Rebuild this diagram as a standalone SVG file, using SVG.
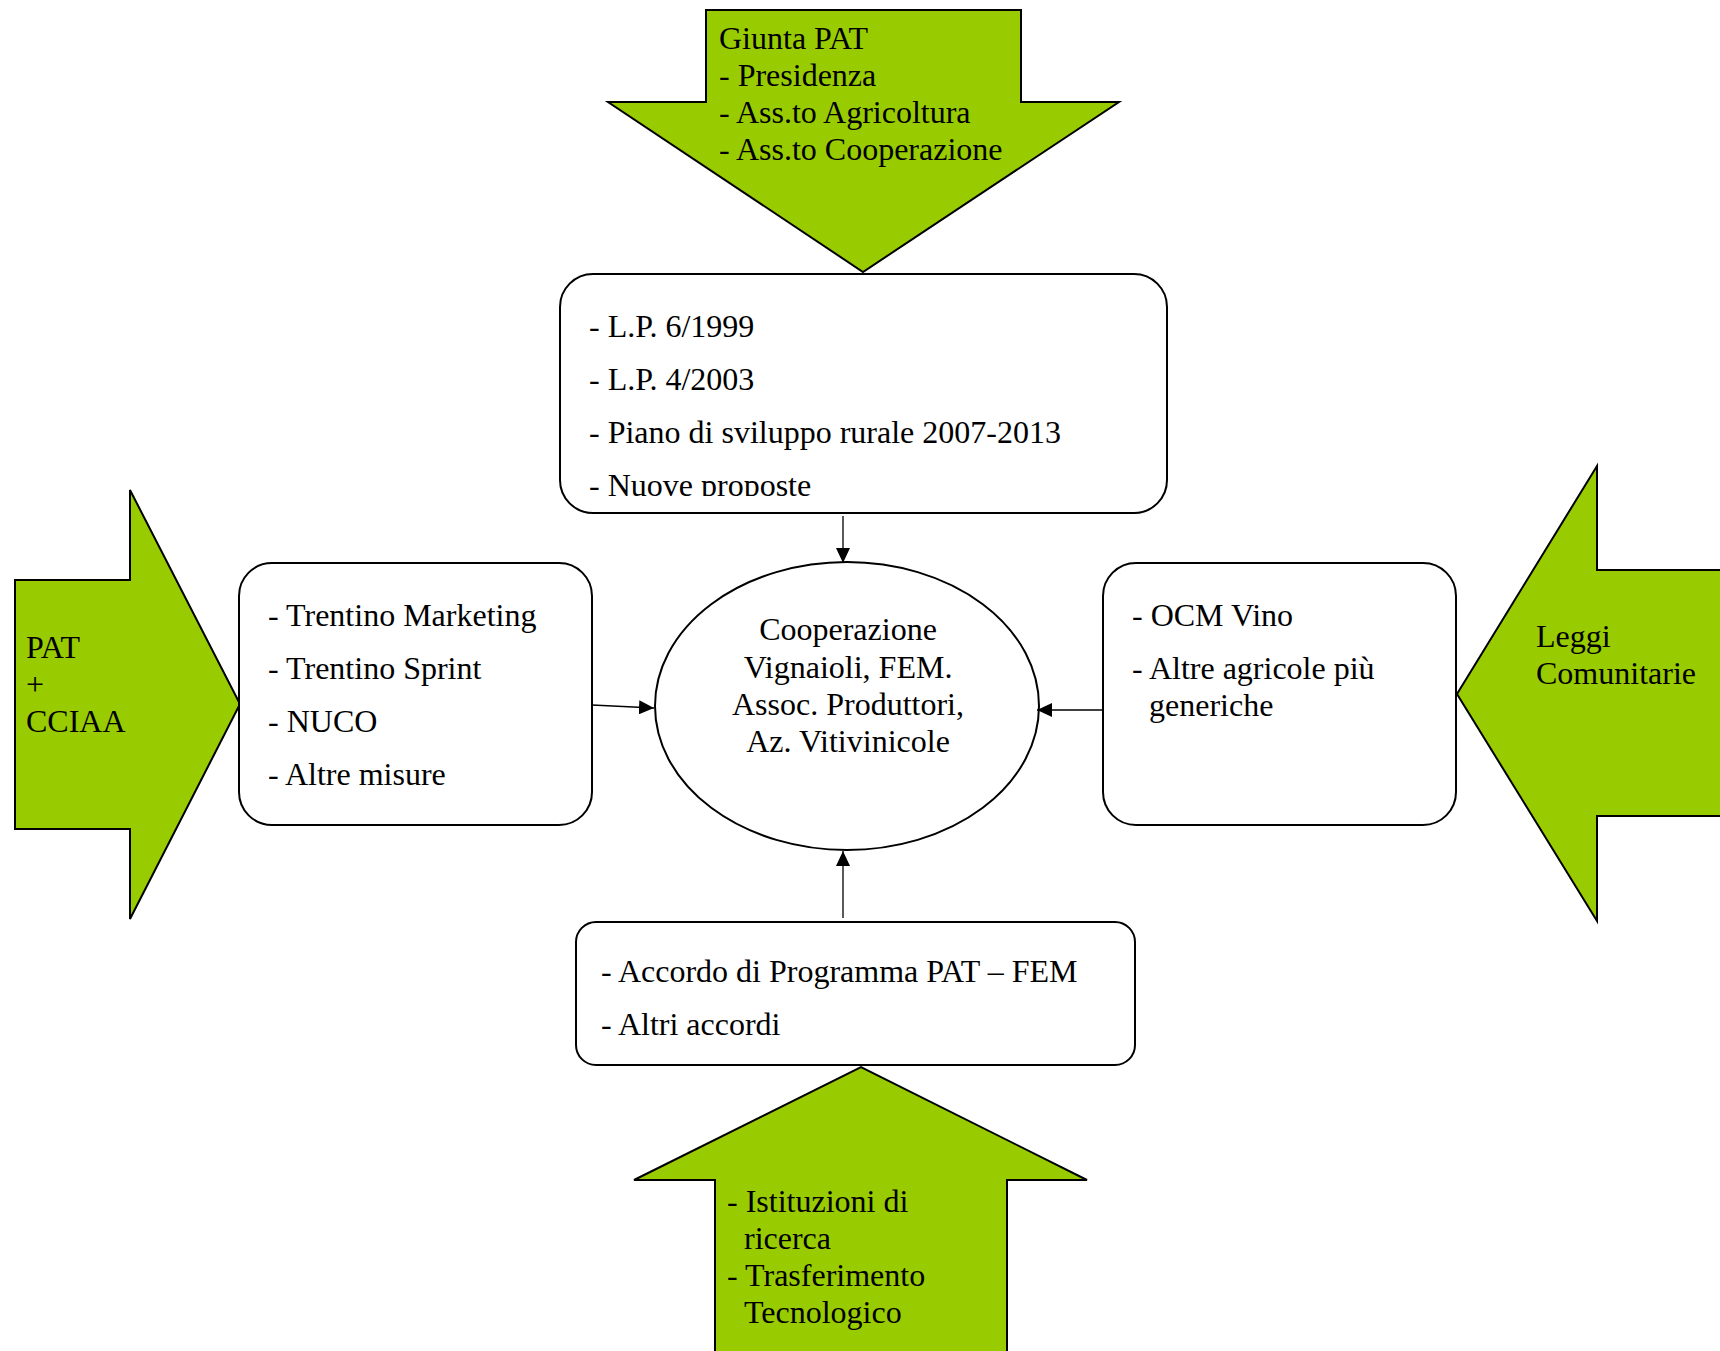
<svg xmlns="http://www.w3.org/2000/svg" width="1720" height="1351" viewBox="0 0 1720 1351">
<style>
  text { font-family: "Liberation Serif", "Times New Roman", serif; font-size: 32px; fill: #000; }
  .green { fill: #99CC00; stroke: #000; stroke-width: 2; stroke-linejoin: miter; }
  .box { fill: #fff; stroke: #000; stroke-width: 2; }
  .conn { stroke: #000; stroke-width: 1.3; fill: none; marker-end: url(#ah); }
</style>
<defs>
  <marker id="ah" viewBox="0 0 15 14" refX="15" refY="7" markerWidth="15" markerHeight="14" markerUnits="userSpaceOnUse" orient="auto">
    <path d="M0,0 L15,7 L0,14 Z" fill="#000"/>
  </marker>
  <clipPath id="clipTop"><rect x="560" y="274" width="606" height="222"/></clipPath>
</defs>
<rect width="1720" height="1351" fill="#fff"/>

<g id="arrow-top">
  <polygon class="green" points="706,10 1021,10 1021,102 1119,102 863,272 608,102 706,102"/>
  <text x="719" y="49">Giunta PAT</text>
  <text x="719" y="86">- Presidenza</text>
  <text x="719" y="123">- Ass.to Agricoltura</text>
  <text x="719" y="160">- Ass.to Cooperazione</text>
</g>

<g id="arrow-left">
  <polygon class="green" points="15,580 130,580 130,490 240,704 130,919 130,829 15,829"/>
  <text x="26" y="658">PAT</text>
  <text x="26" y="695">+</text>
  <text x="26" y="732">CCIAA</text>
</g>

<g id="arrow-right">
  <polygon class="green" points="1722,570 1597,570 1597,466 1457,694 1597,921 1597,816 1722,816"/>
  <text x="1536" y="647">Leggi</text>
  <text x="1536" y="684">Comunitarie</text>
</g>

<g id="arrow-bottom">
  <polygon class="green" points="715,1353 715,1180 634,1180 861,1067 1087,1180 1007,1180 1007,1353"/>
  <text x="727" y="1212">- Istituzioni di</text>
  <text x="744" y="1249">ricerca</text>
  <text x="727" y="1286">- Trasferimento</text>
  <text x="744" y="1323">Tecnologico</text>
</g>

<g id="box-top">
  <rect class="box" x="560" y="274" width="607" height="239" rx="33" ry="33"/>
  <g clip-path="url(#clipTop)">
    <text x="589" y="337">- L.P. 6/1999</text>
    <text x="589" y="390">- L.P. 4/2003</text>
    <text x="589" y="443">- Piano di sviluppo rurale 2007-2013</text>
    <text x="589" y="496">- Nuove proposte</text>
  </g>
</g>

<g id="box-left">
  <rect class="box" x="239" y="563" width="353" height="262" rx="33" ry="33"/>
  <text x="268" y="626">- Trentino Marketing</text>
  <text x="268" y="679">- Trentino Sprint</text>
  <text x="268" y="732">- NUCO</text>
  <text x="268" y="785">- Altre misure</text>
</g>

<g id="box-right">
  <rect class="box" x="1103" y="563" width="353" height="262" rx="33" ry="33"/>
  <text x="1132" y="626">- OCM Vino</text>
  <text x="1132" y="679">- Altre agricole più</text>
  <text x="1149" y="716">generiche</text>
</g>

<g id="box-bottom">
  <rect class="box" x="576" y="922" width="559" height="143" rx="20" ry="20"/>
  <text x="601" y="982">- Accordo di Programma PAT – FEM</text>
  <text x="601" y="1035">- Altri accordi</text>
</g>

<g id="center">
  <ellipse class="box" cx="847" cy="706" rx="192" ry="144"/>
  <text x="848" y="640" text-anchor="middle">Cooperazione</text>
  <text x="848" y="678" text-anchor="middle">Vignaioli, FEM.</text>
  <text x="848" y="715" text-anchor="middle">Assoc. Produttori,</text>
  <text x="848" y="752" text-anchor="middle">Az. Vitivinicole</text>
</g>

<g id="connectors">
  <line class="conn" x1="843" y1="516" x2="843" y2="563"/>
  <line class="conn" x1="592" y1="705" x2="654" y2="708"/>
  <line class="conn" x1="1103" y1="710" x2="1037" y2="710"/>
  <line class="conn" x1="843" y1="918" x2="843" y2="851"/>
</g>
</svg>
